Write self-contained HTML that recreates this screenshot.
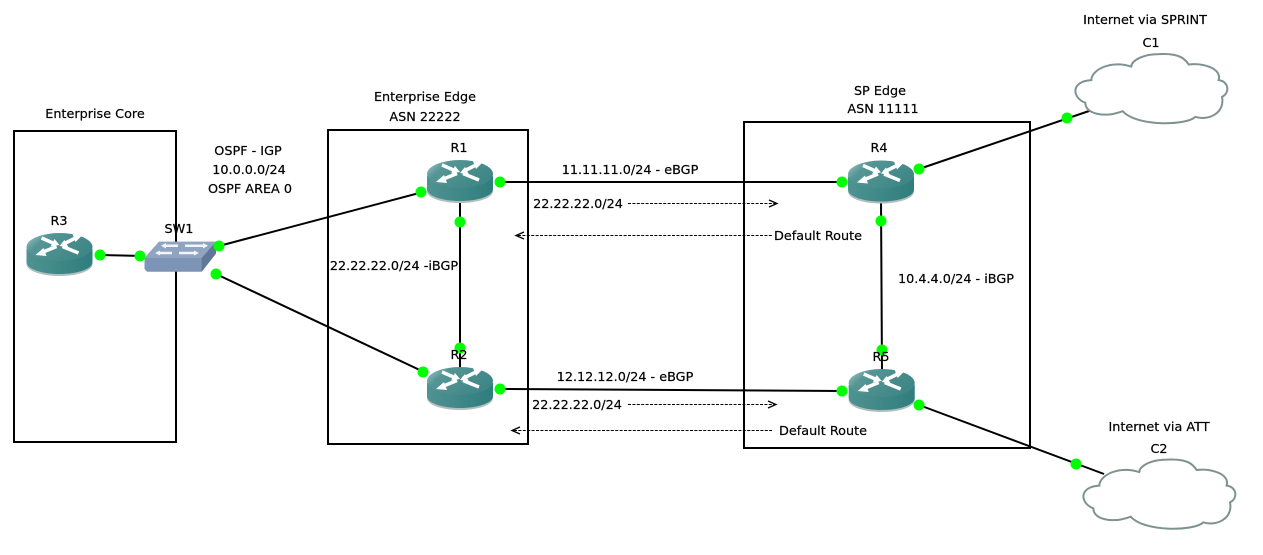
<!DOCTYPE html>
<html><head><meta charset="utf-8"><style>
html,body{margin:0;padding:0;background:#fff}
svg{display:block}
text{font-family:"DejaVu Sans","Liberation Sans",sans-serif;font-size:12.8px;fill:#000;stroke:#000;stroke-width:.2px;text-anchor:middle}
</style></head><body>
<svg width="1263" height="555" viewBox="0 0 1263 555" xmlns="http://www.w3.org/2000/svg">
<defs>
<linearGradient id="top" x1="0" x2="1" y1="0" y2=".5"><stop offset="0" stop-color="#a8cccc"/><stop offset=".3" stop-color="#559595"/><stop offset="1" stop-color="#3f8686"/></linearGradient>
<linearGradient id="side" x1="0" x2="1" y1="0" y2="0"><stop offset="0" stop-color="#4f9292"/><stop offset="1" stop-color="#2f7d7d"/></linearGradient>
<g id="router">
<path d="M-33 2V17C-33 24-18 29 0 29S33 24 33 17V2Z" fill="#b0bebe"/>
<path d="M-33 2V15C-33 22-18 27 0 27S33 22 33 15V2Z" fill="url(#side)"/>
<ellipse cx="0" cy="0" rx="33" ry="14" fill="url(#top)"/>
<g stroke="#fff" stroke-width="3.500" fill="#fff">
<path d="M-18-9L-3-2.500M18-10L3-2.500M-19 6L-3-.5M19 6L3-.5"/>
</g>
<g fill="#fff">
<path d="M0-2L-9-.5-5-8Z"/><path d="M24-13L13-13 16-5Z"/><path d="M-24 8L-13 9-16 1Z"/><path d="M0-1L9 0.500 5-7Z"/>
</g>
</g>
<g id="cloud" transform="scale(.33333)">
<path d="M118 212C118 180 180 150 240 172C232 165 255 135 320 134C385 130 400 150 410 165C450 160 510 175 500 212C530 215 535 250 510 262C520 310 470 335 430 322C400 350 250 350 212 305C160 325 100 315 100 280C60 265 55 215 118 212Z" fill="#fff" stroke="#7f9292" stroke-width="6"/>
</g>
</defs>
<g fill="none" stroke="#000" stroke-width="2">
<rect x="14" y="131" width="162" height="311"/>
<rect x="328" y="130" width="200" height="314"/>
<rect x="744" y="122" width="286" height="326"/>
</g>
<g stroke="#000" stroke-width="2" fill="none">
<path d="M100 255L145 256"/>
<path d="M219 246L423 192"/>
<path d="M216 274L424 372"/>
<path d="M500 182H842"/>
<path d="M500 389L842 391"/>
<path d="M460 200V370"/>
<path d="M881 200L882 372"/>
<path d="M919 169L1092 110"/>
<path d="M919 405L1104 474"/>
</g>
<g stroke="#000" stroke-width="1" fill="none" stroke-dasharray="3 1.4">
<path d="M628 203.500H775"/>
<path d="M518 235.500H773"/>
<path d="M628 404.500H775"/>
<path d="M514 430.500H772"/>
</g>
<g stroke="#000" stroke-width="1.300" fill="none">
<path d="M769 200L777 203.500 769 207"/>
<path d="M524 232L516 235.500 524 239"/>
<path d="M768 401L776 404.500 768 408"/>
<path d="M520 427L512 430.500 520 434"/>
</g>
<use href="#router" transform="translate(59.500,247)"/>
<use href="#router" transform="translate(460,174)"/>
<use href="#router" transform="translate(460,381)"/>
<use href="#router" transform="translate(881,174.500)"/>
<use href="#router" transform="translate(881.700,383)"/>
<use href="#cloud" transform="translate(1052,9.500)"/>
<use href="#cloud" transform="translate(1060,415)"/>
<!-- switch -->
<path d="M144.500 258V269L147 271.700H201.700L216 253.500V241.700H159Z" fill="#7c94b6"/>
<path d="M144.500 258L159 241.700H216L201.700 258Z" fill="#90a3c0"/>
<path d="M201.700 258L216 241.700V253.500L201.700 271.700Z" fill="#5f7898"/>
<g stroke="#f2f5fa" stroke-width="2.500" fill="#f2f5fa">
<path d="M165 245.700H178M185 245.700H204M159 253H172M179 253H195"/>
<path d="M161 245.700L166 243 166 248.500ZM208 245.700L203 243 203 248.500ZM155 253L160 250.500 160 255.500ZM199 253L194 250.500 194 255.500Z" stroke="none"/>
</g>
<g fill="#0f0">
<circle cx="100" cy="255" r="5.500"/><circle cx="140" cy="256" r="5.500"/><circle cx="219" cy="246" r="5.500"/><circle cx="216" cy="274" r="5.500"/>
<circle cx="421" cy="192" r="5.500"/><circle cx="500" cy="182" r="5.500"/><circle cx="460" cy="222" r="5.500"/><circle cx="460" cy="348" r="5.500"/>
<circle cx="423" cy="372" r="5.500"/><circle cx="500" cy="389" r="5.500"/><circle cx="842" cy="182" r="5.500"/><circle cx="919" cy="169" r="5.500"/>
<circle cx="881" cy="221" r="5.500"/><circle cx="882" cy="350" r="5.500"/><circle cx="842" cy="391" r="5.500"/><circle cx="919" cy="405" r="5.500"/>
<circle cx="1067" cy="118" r="5.500"/><circle cx="1076" cy="464" r="5.500"/>
</g>
<text x="95" y="118">Enterprise Core</text>
<text x="59" y="225">R3</text>
<text x="179" y="233">SW1</text>
<text x="248" y="155">OSPF - IGP</text>
<text x="249" y="174">10.0.0.0/24</text>
<text x="250" y="193">OSPF AREA 0</text>
<text x="425" y="101">Enterprise Edge</text>
<text x="425" y="121">ASN 22222</text>
<text x="459" y="152">R1</text>
<text x="459" y="359">R2</text>
<text x="394" y="270">22.22.22.0/24 -iBGP</text>
<text x="630" y="174">11.11.11.0/24 - eBGP</text>
<text x="578" y="208">22.22.22.0/24</text>
<text x="818" y="240">Default Route</text>
<text x="625" y="381">12.12.12.0/24 - eBGP</text>
<text x="577" y="409">22.22.22.0/24</text>
<text x="823" y="435">Default Route</text>
<text x="880" y="95">SP Edge</text>
<text x="883" y="113">ASN 11111</text>
<text x="879" y="152">R4</text>
<text x="881" y="361">R5</text>
<text x="956" y="283">10.4.4.0/24 - iBGP</text>
<text x="1145" y="24">Internet via SPRINT</text>
<text x="1151" y="47">C1</text>
<text x="1159" y="431">Internet via ATT</text>
<text x="1159" y="453">C2</text>
</svg>
</body></html>
